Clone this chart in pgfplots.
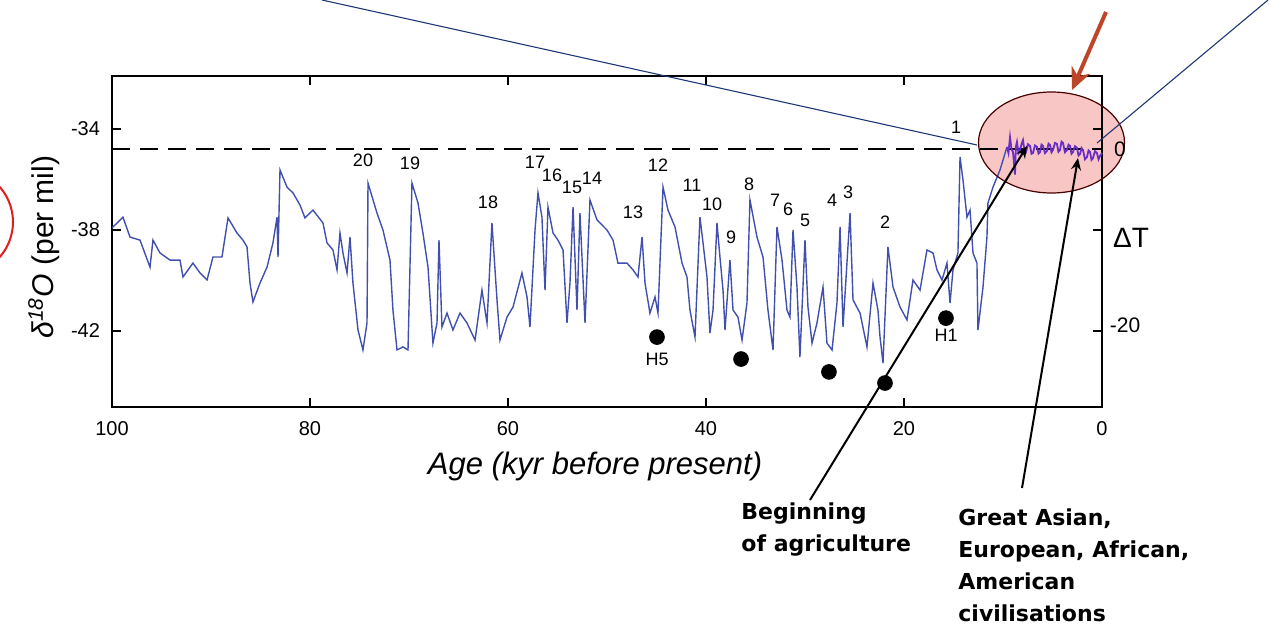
\documentclass[border=0pt]{standalone}
\usepackage{pgfplots}
\pgfplotsset{compat=1.18}
\usepackage{fontspec}
\setmainfont{Liberation Sans}
\newfontfamily\annfont{DejaVu Sans}
\usetikzlibrary{arrows.meta}
\definecolor{curveblue}{RGB}{65,80,175}
\definecolor{holopurple}{RGB}{105,45,200}
\definecolor{ellfill}{RGB}{248,198,196}
\definecolor{navyline}{RGB}{30,55,120}
\definecolor{arrowred}{RGB}{190,70,40}
\definecolor{circred}{RGB}{225,30,30}

\pgfplotstableread{
x y
100.00 -37.90
99.90 -37.88
98.89 -37.49
98.18 -38.28
97.17 -38.40
96.16 -39.47
95.86 -38.40
95.15 -38.91
94.14 -39.19
93.13 -39.19
92.83 -39.86
91.82 -39.31
91.11 -39.70
90.40 -39.98
89.80 -39.07
88.89 -39.07
88.28 -37.52
87.37 -38.12
86.77 -38.40
86.36 -38.67
86.06 -40.10
85.76 -40.85
85.05 -40.10
84.34 -39.47
83.74 -38.51
83.33 -37.49
83.23 -39.07
83.03 -35.62
82.32 -36.30
81.72 -36.53
81.01 -37.01
80.51 -37.52
79.70 -37.21
78.69 -37.72
78.28 -38.51
77.68 -38.79
77.27 -39.58
76.97 -38.12
76.67 -38.91
76.26 -39.70
75.96 -38.28
75.66 -40.10
75.15 -41.96
74.65 -42.75
74.24 -41.68
74.14 -36.14
73.23 -37.33
72.63 -38.00
71.92 -39.19
71.62 -41.17
71.21 -42.75
70.61 -42.63
70.10 -42.75
69.70 -36.14
69.09 -36.93
68.59 -38.12
68.08 -39.47
67.58 -42.48
67.17 -41.68
66.97 -38.40
66.67 -41.84
66.16 -41.29
65.56 -41.96
64.85 -41.29
64.14 -41.68
63.33 -42.36
62.63 -40.38
62.12 -41.68
61.62 -37.72
61.11 -40.77
60.81 -42.36
60.10 -41.45
59.49 -41.05
58.59 -39.70
58.08 -40.65
57.78 -41.84
57.27 -38.00
56.97 -36.53
56.57 -37.49
56.26 -40.38
55.96 -37.09
55.45 -38.12
54.95 -38.40
54.44 -38.79
54.04 -41.68
53.74 -40.10
53.43 -37.09
53.03 -41.17
52.73 -37.33
52.22 -41.68
51.72 -36.81
51.01 -37.60
50.00 -38.00
49.39 -38.40
48.89 -39.31
47.98 -39.31
47.37 -39.58
46.87 -39.86
46.46 -38.28
46.16 -40.10
45.66 -41.29
45.15 -40.65
44.85 -41.29
44.34 -36.30
43.84 -37.21
43.13 -37.88
42.42 -39.31
41.92 -39.86
41.62 -41.17
41.11 -42.24
40.61 -37.49
40.30 -38.51
39.90 -39.86
39.60 -42.08
39.29 -41.17
38.89 -37.72
38.59 -39.07
38.28 -40.38
38.08 -41.96
37.58 -39.19
37.27 -41.17
36.77 -41.45
36.36 -42.36
35.86 -40.89
35.56 -36.81
34.85 -38.28
34.24 -39.07
33.74 -41.17
33.23 -42.75
32.83 -37.88
32.32 -39.19
31.82 -41.17
31.52 -41.45
31.21 -38.00
30.81 -40.26
30.51 -43.03
30.00 -38.40
29.70 -41.05
29.29 -42.48
28.79 -41.68
28.18 -40.26
27.78 -42.48
27.27 -42.75
26.77 -40.89
26.46 -37.88
26.16 -41.84
25.45 -37.33
25.15 -40.77
24.44 -41.29
23.74 -42.63
23.13 -40.10
22.63 -41.17
22.42 -42.24
22.12 -43.27
21.62 -38.67
21.11 -40.26
20.40 -41.05
19.70 -41.56
19.09 -39.98
18.38 -40.38
17.68 -38.79
17.07 -38.91
16.67 -39.58
16.16 -39.98
15.66 -39.31
15.35 -40.89
15.05 -39.58
14.55 -38.91
14.34 -35.11
14.04 -36.02
13.64 -37.49
13.33 -37.21
13.03 -38.91
12.63 -39.31
12.53 -41.96
12.02 -40.26
11.62 -38.28
11.52 -36.93
11.01 -36.30
10.30 -35.62
9.60 -34.71
}\glacial

\pgfplotstableread{
x y
9.60 -34.71
9.45 -34.95
9.29 -34.32
9.14 -34.80
8.99 -34.91
8.79 -35.80
8.70 -34.70
8.59 -34.51
8.44 -34.95
8.28 -34.83
8.13 -34.60
7.98 -34.44
7.83 -34.85
7.68 -34.91
7.48 -34.60
7.27 -34.67
7.12 -34.98
6.97 -34.95
6.77 -34.65
6.57 -34.71
6.41 -34.97
6.26 -34.91
6.11 -34.62
5.96 -34.67
5.76 -34.95
5.56 -34.87
5.40 -34.58
5.25 -34.63
5.10 -34.92
4.95 -34.83
4.75 -34.55
4.55 -34.59
4.40 -34.90
4.24 -34.83
4.09 -34.50
3.94 -34.55
3.74 -34.92
3.54 -34.83
3.38 -34.62
3.23 -34.67
3.08 -34.98
2.93 -34.91
2.73 -34.68
2.53 -34.75
2.37 -35.05
2.22 -34.99
2.07 -34.75
1.92 -34.83
1.72 -35.20
1.52 -35.11
1.36 -34.85
1.21 -34.91
1.06 -35.22
0.91 -35.15
0.71 -34.88
0.51 -34.95
0.35 -35.20
0.20 -35.07
0.00 -34.95
}\holocene

\begin{document}
\begin{tikzpicture}
\path[use as bounding box] (0,0) rectangle (636.5pt,314.5pt);
\clip (0,0) rectangle (636.5pt,314.5pt);
% background ellipse (pixel coordinates, origin top-left)
\begin{scope}[x=0.5pt,y=-0.5pt,yshift=314.5pt]
  \fill[ellfill] (1051.5,142.5) ellipse [x radius=36.5pt, y radius=25.25pt];
\end{scope}

\begin{axis}[
  at={(56pt,111pt)}, anchor=south west,
  width=495pt, height=165.5pt, scale only axis,
  x dir=reverse,
  xmin=0, xmax=100, ymin=-45.01, ymax=-31.9,
  xtick={0,20,40,60,80,100}, xticklabels={0,20,40,60,80,100},
  ytick={-42,-38,-34}, yticklabels={-42,-38,-34},
  tick align=inside, xtick pos=both, ytick pos=both,
  xticklabel pos=lower, yticklabel pos=left,
  major tick length=4.5pt,
  every tick/.style={black, line width=1pt},
  axis line style={black, line width=1.3pt},
  ticklabel style={font=\fontsize{10}{12}\selectfont},
  xticklabel style={yshift=-3.5pt},
  yticklabel style={xshift=-2.5pt},
  clip=false,
]
\addplot[black, line width=1pt, dash pattern=on 9pt off 5pt] coordinates {(100,-34.79) (0,-34.79)};
\addplot[curveblue, line width=0.7pt] table[x=x,y=y] {\glacial};
\addplot[holopurple, line width=0.9pt] table[x=x,y=y] {\holocene};
\addplot[only marks, mark=*, mark size=3.7pt, black] coordinates {
  (44.95,-42.24) (36.46,-43.11) (27.58,-43.62) (21.92,-44.06) (15.76,-41.49)};
\end{axis}

\begin{scope}[x=0.5pt,y=-0.5pt,yshift=314.5pt]
  % ellipse outline
  \draw[black!60!red!70!black, line width=0.6pt] (1051.5,142.5) ellipse [x radius=36.5pt, y radius=25.25pt];
  % red partial circle at left edge
  \draw[circred, line width=1pt] (-40,222) ellipse [x radius=26.5pt, y radius=26.5pt];
  % thin navy lines from top
  \draw[navyline, line width=0.55pt] (322,0) -- (977,145);
  \draw[navyline, line width=0.55pt] (1268,0) -- (1097,143);
  % red arrow
  \draw[arrowred, line width=2pt, -{Stealth[length=11pt,width=10pt]}] (1106,12) -- (1072,90);
  % black annotation lines
  \draw[black, line width=1pt, -{Stealth[length=6pt,width=5pt]}] (810,500) -- (1027,146);
  \draw[black, line width=1pt, -{Stealth[length=6pt,width=5pt]}] (1022,488) -- (1078,158);
  % axis labels
  \node[font=\fontsize{15.5}{18}\selectfont\itshape, inner sep=0] at (595,466) {Age (kyr before present)};
  \node[font=\fontsize{15}{18}\selectfont, inner sep=0, rotate=90] at (44,247) {\textit{δ\textsuperscript{18}O} (per mil)};
  % right labels
  \node[font=\fontsize{10.5}{12}\selectfont, inner sep=0] at (1120,149) {0};
  \node[font=\fontsize{14}{16}\selectfont, inner sep=0] at (1131,238) {ΔT};
  \node[font=\fontsize{10.5}{12}\selectfont, inner sep=0] at (1125,325) {-20};
  % event numbers
  \begin{scope}[every node/.style={font=\fontsize{9}{10}\selectfont, inner sep=0}]
    \node at (363,160) {20};
    \node at (410,163) {19};
    \node at (488,202) {18};
    \node at (535,162) {17};
    \node at (552,175) {16};
    \node at (572,187) {15};
    \node at (592,178) {14};
    \node at (633,212) {13};
    \node at (658,165) {12};
    \node at (692,185) {11};
    \node at (712,204) {10};
    \node at (731,237) {9};
    \node at (749,184) {8};
    \node at (775,200) {7};
    \node at (788,209) {6};
    \node at (805,220) {5};
    \node at (832,200) {4};
    \node at (848,192) {3};
    \node at (885,222) {2};
    \node at (956,127) {1};
    \node at (657,359) {H5};
    \node at (946,335) {H1};
  \end{scope}
  % annotations
  \node[font=\annfont\bfseries\fontsize{11}{16}\selectfont, anchor=north west, inner sep=0, align=left] at (741,502) {Beginning\\of agriculture};
  \node[font=\annfont\bfseries\fontsize{11}{16}\selectfont, anchor=north west, inner sep=0, align=left] at (958,508) {Great Asian,\\European, African,\\American\\civilisations};
\end{scope}
\end{tikzpicture}
\end{document}
